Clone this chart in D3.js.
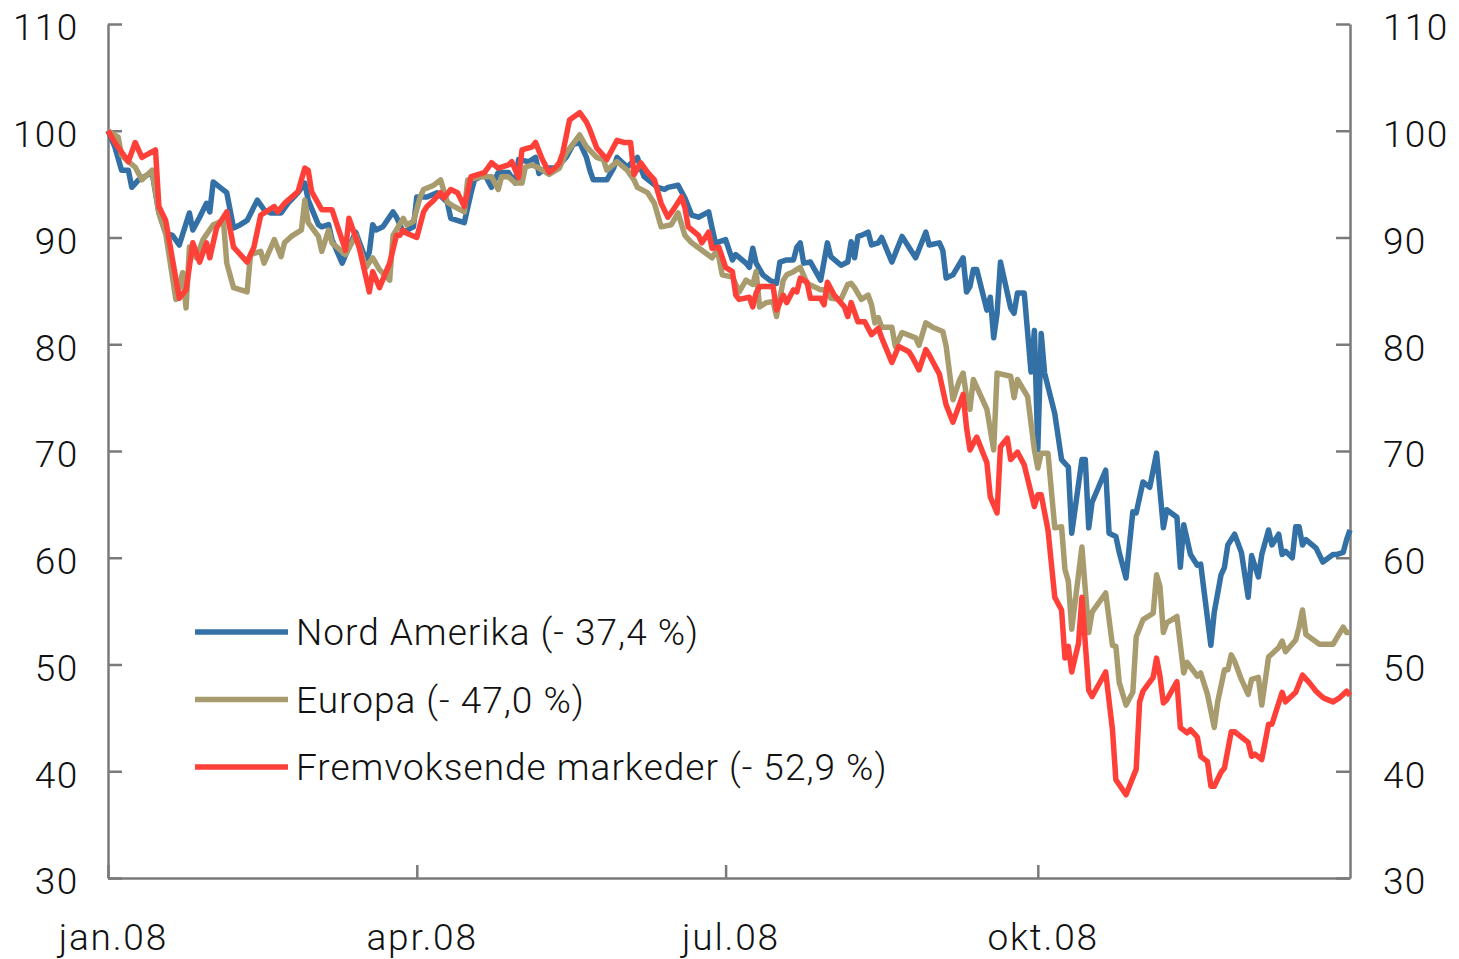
<!DOCTYPE html>
<html>
<head>
<meta charset="utf-8">
<script src="https://cdn.jsdelivr.net/npm/d3@7"></script>
<style>
  body { margin: 0; background: #fff; }
  svg text { font-family: Roboto, "Liberation Sans", Arial, sans-serif; font-weight: 300; fill: #111; }
</style>
</head>
<body>
<div id="chart"></div>
<script>
// index values, 1 jan 2008 = 100
const nordAmerika = [
  ["2008-01-01",100.0],["2008-01-03",98.5],["2008-01-05",96.3],["2008-01-07",96.3],["2008-01-08",94.7],
  ["2008-01-10",95.4],["2008-01-14",96.1],["2008-01-16",92.3],["2008-01-18",90.4],["2008-01-20",90.2],
  ["2008-01-22",89.3],["2008-01-25",92.3],["2008-01-26",90.7],["2008-01-28",91.9],["2008-01-30",93.2],
  ["2008-01-31",92.4],["2008-02-01",95.2],["2008-02-03",94.7],["2008-02-05",94.2],["2008-02-07",90.9],
  ["2008-02-09",91.2],["2008-02-11",91.6],["2008-02-14",93.5],["2008-02-16",92.6],["2008-02-18",92.3],
  ["2008-02-21",92.3],["2008-02-23",93.2],["2008-02-26",94.2],["2008-02-28",95.1],["2008-02-29",93.5],
  ["2008-03-03",91.2],["2008-03-04",91.0],["2008-03-06",91.2],["2008-03-07",89.8],["2008-03-10",87.6],
  ["2008-03-12",89.1],["2008-03-14",90.5],["2008-03-17",87.9],["2008-03-18",88.6],["2008-03-19",91.2],
  ["2008-03-20",90.7],["2008-03-22",91.0],["2008-03-25",92.4],["2008-03-26",91.9],["2008-03-28",90.5],
  ["2008-03-31",91.0],["2008-04-01",93.8],["2008-04-04",93.8],["2008-04-07",94.2],["2008-04-10",93.3],
  ["2008-04-11",91.8],["2008-04-15",91.4],["2008-04-17",94.2],["2008-04-18",95.4],["2008-04-21",95.9],
  ["2008-04-23",94.7],["2008-04-25",96.1],["2008-04-28",96.1],["2008-04-30",95.1],["2008-05-01",97.3],
  ["2008-05-04",97.1],["2008-05-06",97.5],["2008-05-07",96.0],["2008-05-09",96.5],["2008-05-12",96.5],
  ["2008-05-15",97.5],["2008-05-17",98.7],["2008-05-19",98.9],["2008-05-21",97.5],["2008-05-22",96.3],
  ["2008-05-23",95.4],["2008-05-27",95.4],["2008-05-29",96.5],["2008-05-30",97.5],["2008-06-02",96.6],
  ["2008-06-05",97.5],["2008-06-06",96.5],["2008-06-07",95.7],["2008-06-11",94.7],["2008-06-13",94.5],
  ["2008-06-14",94.7],["2008-06-17",94.9],["2008-06-19",93.7],["2008-06-21",92.1],["2008-06-23",91.9],
  ["2008-06-26",92.4],["2008-06-27",90.9],["2008-06-28",89.5],["2008-06-29",89.6],["2008-07-01",89.8],
  ["2008-07-03",87.9],["2008-07-04",88.4],["2008-07-07",87.6],["2008-07-08",87.2],["2008-07-09",89.0],
  ["2008-07-10",87.6],["2008-07-12",86.5],["2008-07-14",86.0],["2008-07-16",85.7],["2008-07-17",87.7],
  ["2008-07-19",87.9],["2008-07-21",87.9],["2008-07-22",89.1],["2008-07-23",89.5],["2008-07-24",87.6],
  ["2008-07-26",87.7],["2008-07-29",86.0],["2008-07-31",89.5],["2008-08-01",88.2],["2008-08-04",87.4],
  ["2008-08-06",87.7],["2008-08-07",89.6],["2008-08-08",88.1],["2008-08-09",90.1],["2008-08-10",90.2],
  ["2008-08-12",90.5],["2008-08-13",89.3],["2008-08-15",89.5],["2008-08-16",90.0],["2008-08-19",87.7],
  ["2008-08-22",90.1],["2008-08-26",88.1],["2008-08-29",90.5],["2008-08-30",89.3],["2008-09-02",89.5],
  ["2008-09-03",88.8],["2008-09-04",86.2],["2008-09-06",86.5],["2008-09-09",88.1],["2008-09-10",84.9],
  ["2008-09-11",85.4],["2008-09-12",87.0],["2008-09-13",87.0],["2008-09-16",83.2],["2008-09-17",84.4],
  ["2008-09-18",80.6],["2008-09-19",82.9],["2008-09-20",87.7],["2008-09-23",83.4],["2008-09-24",82.9],
  ["2008-09-25",84.8],["2008-09-27",84.8],["2008-09-29",77.4],["2008-09-30",81.3],["2008-10-01",70.1],
  ["2008-10-02",81.0],["2008-10-03",77.3],["2008-10-06",73.5],["2008-10-08",69.2],["2008-10-10",68.5],
  ["2008-10-11",62.3],["2008-10-14",69.2],["2008-10-15",69.2],["2008-10-16",62.8],["2008-10-17",65.2],
  ["2008-10-21",68.2],["2008-10-22",62.3],["2008-10-24",62.0],["2008-10-25",60.5],["2008-10-27",58.1],
  ["2008-10-29",64.3],["2008-10-30",64.2],["2008-11-01",67.1],["2008-11-03",66.6],["2008-11-05",69.8],
  ["2008-11-07",62.8],["2008-11-08",64.5],["2008-11-11",63.8],["2008-11-12",59.1],["2008-11-13",63.1],
  ["2008-11-15",60.3],["2008-11-17",59.3],["2008-11-18",59.4],["2008-11-21",51.8],["2008-11-22",54.9],
  ["2008-11-24",58.4],["2008-11-25",59.1],["2008-11-26",61.2],["2008-11-28",62.2],["2008-11-30",60.5],
  ["2008-12-02",56.3],["2008-12-03",60.2],["2008-12-05",58.2],["2008-12-06",60.3],["2008-12-08",62.6],
  ["2008-12-09",61.2],["2008-12-11",62.2],["2008-12-12",60.3],["2008-12-13",60.6],["2008-12-15",60.0],
  ["2008-12-16",62.9],["2008-12-17",62.9],["2008-12-18",61.2],["2008-12-19",61.7],["2008-12-22",60.9],
  ["2008-12-24",59.6],["2008-12-27",60.3],["2008-12-28",60.3],["2008-12-30",60.5],["2008-12-31",61.7],
  ["2009-01-01",62.6]
];

const europa = [
  ["2008-01-01",100.0],["2008-01-04",99.4],["2008-01-05",97.7],["2008-01-07",97.1],["2008-01-09",96.6],
  ["2008-01-11",95.4],["2008-01-14",96.3],["2008-01-16",92.3],["2008-01-18",90.4],["2008-01-21",84.2],
  ["2008-01-23",86.7],["2008-01-24",83.4],["2008-01-25",89.1],["2008-01-27",88.1],["2008-01-29",89.8],
  ["2008-02-01",91.2],["2008-02-04",91.6],["2008-02-05",87.6],["2008-02-07",85.3],["2008-02-11",84.9],
  ["2008-02-12",88.4],["2008-02-15",88.7],["2008-02-16",87.6],["2008-02-19",89.8],["2008-02-21",88.2],
  ["2008-02-22",89.5],["2008-02-24",90.1],["2008-02-27",90.7],["2008-02-28",93.5],["2008-02-29",91.4],
  ["2008-03-03",90.1],["2008-03-04",88.7],["2008-03-06",90.7],["2008-03-07",89.5],["2008-03-11",88.4],
  ["2008-03-14",90.2],["2008-03-17",87.2],["2008-03-19",88.1],["2008-03-21",87.0],["2008-03-24",86.0],
  ["2008-03-25",90.2],["2008-03-28",91.8],["2008-03-29",91.2],["2008-03-31",91.5],["2008-04-02",93.8],
  ["2008-04-03",94.5],["2008-04-06",94.9],["2008-04-08",95.4],["2008-04-10",93.3],["2008-04-12",92.9],
  ["2008-04-15",92.4],["2008-04-16",95.4],["2008-04-20",95.7],["2008-04-23",95.7],["2008-04-25",94.5],
  ["2008-04-26",95.7],["2008-04-28",95.7],["2008-04-30",95.1],["2008-05-02",95.1],["2008-05-03",96.6],
  ["2008-05-05",96.8],["2008-05-07",96.5],["2008-05-10",95.9],["2008-05-13",96.5],["2008-05-15",97.9],
  ["2008-05-19",99.6],["2008-05-21",98.5],["2008-05-24",97.5],["2008-05-26",97.3],["2008-05-27",96.3],
  ["2008-05-30",97.1],["2008-06-02",96.3],["2008-06-04",95.4],["2008-06-05",94.7],["2008-06-08",94.2],
  ["2008-06-10",93.2],["2008-06-12",91.0],["2008-06-15",91.2],["2008-06-17",92.3],["2008-06-19",90.2],
  ["2008-06-21",89.5],["2008-06-24",88.8],["2008-06-27",88.1],["2008-06-28",88.6],["2008-06-29",88.2],
  ["2008-06-30",86.5],["2008-07-03",86.3],["2008-07-05",84.9],["2008-07-07",86.0],["2008-07-09",85.6],
  ["2008-07-10",86.8],["2008-07-11",83.5],["2008-07-13",83.9],["2008-07-15",84.0],["2008-07-16",82.6],
  ["2008-07-18",86.0],["2008-07-19",86.5],["2008-07-21",86.8],["2008-07-23",87.2],["2008-07-25",85.7],
  ["2008-07-29",85.1],["2008-07-31",85.1],["2008-08-01",84.3],["2008-08-04",84.2],["2008-08-06",85.6],
  ["2008-08-07",85.7],["2008-08-08",85.3],["2008-08-10",84.2],["2008-08-12",84.6],["2008-08-13",83.7],
  ["2008-08-14",82.0],["2008-08-15",82.5],["2008-08-16",81.6],["2008-08-19",81.6],["2008-08-20",79.8],
  ["2008-08-22",81.1],["2008-08-26",80.6],["2008-08-27",79.9],["2008-08-29",82.0],["2008-08-31",81.6],
  ["2008-09-03",81.2],["2008-09-04",79.8],["2008-09-05",77.3],["2008-09-06",74.8],["2008-09-08",76.7],
  ["2008-09-09",77.3],["2008-09-10",75.1],["2008-09-11",73.9],["2008-09-12",76.7],["2008-09-16",73.9],
  ["2008-09-18",70.1],["2008-09-19",77.3],["2008-09-23",77.0],["2008-09-24",75.0],["2008-09-25",76.7],
  ["2008-09-28",75.1],["2008-09-30",70.1],["2008-10-01",68.4],["2008-10-02",69.8],["2008-10-04",69.8],
  ["2008-10-06",62.8],["2008-10-08",62.9],["2008-10-09",58.9],["2008-10-10",57.8],["2008-10-11",53.3],
  ["2008-10-14",61.0],["2008-10-16",53.0],["2008-10-17",54.9],["2008-10-21",56.7],["2008-10-23",51.8],
  ["2008-10-24",51.7],["2008-10-25",48.3],["2008-10-27",46.2],["2008-10-29",47.4],["2008-10-30",52.6],
  ["2008-11-01",54.2],["2008-11-04",54.8],["2008-11-05",58.4],["2008-11-06",57.3],["2008-11-07",53.0],
  ["2008-11-08",53.9],["2008-11-11",54.5],["2008-11-13",49.2],["2008-11-14",50.2],["2008-11-17",48.9],
  ["2008-11-18",49.2],["2008-11-20",47.2],["2008-11-22",44.1],["2008-11-23",46.5],["2008-11-25",49.5],
  ["2008-11-26",49.5],["2008-11-27",50.9],["2008-11-28",50.3],["2008-11-30",48.6],["2008-12-02",47.2],
  ["2008-12-03",48.6],["2008-12-05",48.8],["2008-12-06",46.2],["2008-12-08",50.7],["2008-12-11",51.6],
  ["2008-12-12",52.2],["2008-12-13",51.2],["2008-12-16",52.3],["2008-12-17",53.5],["2008-12-18",55.1],
  ["2008-12-19",52.8],["2008-12-23",51.9],["2008-12-27",51.9],["2008-12-30",53.5],["2008-12-31",53.0],
  ["2009-01-01",53.0]
];

const fremvoksende = [
  ["2008-01-01",100.0],["2008-01-03",98.9],["2008-01-07",97.1],["2008-01-09",98.9],["2008-01-11",97.5],
  ["2008-01-15",98.2],["2008-01-16",92.9],["2008-01-18",91.6],["2008-01-22",84.3],["2008-01-24",85.1],
  ["2008-01-26",89.5],["2008-01-28",87.7],["2008-01-30",89.5],["2008-01-31",88.1],["2008-02-02",90.9],
  ["2008-02-05",92.4],["2008-02-07",89.1],["2008-02-11",87.7],["2008-02-13",89.1],["2008-02-15",92.1],
  ["2008-02-19",92.9],["2008-02-20",92.4],["2008-02-22",93.2],["2008-02-26",94.3],["2008-02-28",96.5],
  ["2008-02-29",96.3],["2008-03-01",94.3],["2008-03-04",92.6],["2008-03-07",92.6],["2008-03-09",90.7],
  ["2008-03-11",88.8],["2008-03-12",91.8],["2008-03-15",89.1],["2008-03-18",84.9],["2008-03-19",86.8],
  ["2008-03-21",85.3],["2008-03-24",87.6],["2008-03-26",90.2],["2008-03-27",90.2],["2008-03-28",90.7],
  ["2008-03-29",90.4],["2008-04-01",90.0],["2008-04-03",92.4],["2008-04-04",92.9],["2008-04-06",93.5],
  ["2008-04-08",94.2],["2008-04-09",93.7],["2008-04-11",94.5],["2008-04-13",94.2],["2008-04-15",92.9],
  ["2008-04-17",95.7],["2008-04-19",95.9],["2008-04-21",96.1],["2008-04-23",97.0],["2008-04-25",96.5],
  ["2008-04-28",96.8],["2008-04-29",97.1],["2008-05-01",95.6],["2008-05-02",98.2],["2008-05-05",98.5],
  ["2008-05-06",98.9],["2008-05-08",97.3],["2008-05-10",96.1],["2008-05-12",96.6],["2008-05-13",97.0],
  ["2008-05-14",97.9],["2008-05-16",101.0],["2008-05-19",101.7],["2008-05-21",100.8],["2008-05-22",100.1],
  ["2008-05-24",98.4],["2008-05-27",97.3],["2008-05-30",99.1],["2008-06-01",98.9],["2008-06-03",98.9],
  ["2008-06-04",95.9],["2008-06-06",97.0],["2008-06-08",96.1],["2008-06-10",95.4],["2008-06-12",93.2],
  ["2008-06-14",91.9],["2008-06-16",92.8],["2008-06-18",93.8],["2008-06-19",92.8],["2008-06-20",91.0],
  ["2008-06-23",90.2],["2008-06-24",89.5],["2008-06-26",90.5],["2008-06-27",89.0],["2008-06-29",89.1],
  ["2008-07-01",87.2],["2008-07-03",86.8],["2008-07-04",84.6],["2008-07-05",84.2],["2008-07-08",84.4],
  ["2008-07-09",83.5],["2008-07-10",84.8],["2008-07-11",85.4],["2008-07-15",85.4],["2008-07-16",83.2],
  ["2008-07-18",84.6],["2008-07-19",83.9],["2008-07-21",85.1],["2008-07-22",84.9],["2008-07-23",86.2],
  ["2008-07-25",85.8],["2008-07-26",84.3],["2008-07-29",84.3],["2008-07-30",83.7],["2008-07-31",85.8],
  ["2008-08-02",84.6],["2008-08-05",83.5],["2008-08-06",82.6],["2008-08-07",83.9],["2008-08-09",82.1],
  ["2008-08-11",82.1],["2008-08-13",80.9],["2008-08-15",81.5],["2008-08-16",80.6],["2008-08-19",78.3],
  ["2008-08-21",79.8],["2008-08-24",79.3],["2008-08-25",78.8],["2008-08-27",77.6],["2008-08-29",79.5],
  ["2008-08-30",79.0],["2008-09-02",77.2],["2008-09-04",74.3],["2008-09-06",72.7],["2008-09-09",75.3],
  ["2008-09-10",72.2],["2008-09-11",70.1],["2008-09-13",71.3],["2008-09-16",68.9],["2008-09-17",65.7],
  ["2008-09-19",64.2],["2008-09-20",70.4],["2008-09-22",71.2],["2008-09-23",69.2],["2008-09-25",69.9],
  ["2008-09-27",68.7],["2008-09-30",64.8],["2008-10-01",65.9],["2008-10-02",65.9],["2008-10-04",62.6],
  ["2008-10-06",56.3],["2008-10-08",55.1],["2008-10-09",50.6],["2008-10-10",51.7],["2008-10-11",49.3],
  ["2008-10-13",52.0],["2008-10-14",56.3],["2008-10-16",47.6],["2008-10-17",47.0],["2008-10-21",49.3],
  ["2008-10-23",43.9],["2008-10-24",39.2],["2008-10-27",37.8],["2008-10-30",40.2],["2008-10-31",46.5],
  ["2008-11-01",47.5],["2008-11-04",48.8],["2008-11-05",50.6],["2008-11-06",48.9],["2008-11-07",46.4],
  ["2008-11-08",46.7],["2008-11-11",48.4],["2008-11-12",44.1],["2008-11-14",43.6],["2008-11-15",43.9],
  ["2008-11-17",43.2],["2008-11-18",41.4],["2008-11-20",40.9],["2008-11-21",38.6],["2008-11-22",38.6],
  ["2008-11-24",39.9],["2008-11-25",40.3],["2008-11-27",43.7],["2008-11-28",43.7],["2008-12-02",42.7],
  ["2008-12-03",41.4],["2008-12-04",41.6],["2008-12-06",41.1],["2008-12-08",44.4],["2008-12-09",44.4],
  ["2008-12-12",47.4],["2008-12-13",46.5],["2008-12-16",47.4],["2008-12-18",49.0],["2008-12-20",48.3],
  ["2008-12-22",47.5],["2008-12-24",46.9],["2008-12-27",46.5],["2008-12-29",46.9],["2008-12-31",47.5],
  ["2009-01-01",47.1]
];

const seriesNames = ["Nord Amerika (- 37,4 %)", "Europa (- 47,0 %)", "Fremvoksende markeder (- 52,9 %)"];
const seriesColors = ["#3370a6", "#a89c6e", "#ff4038"];
const yTicks = [30, 40, 50, 60, 70, 80, 90, 100, 110];
const xTickDates = ["2008-01-01", "2008-04-01", "2008-07-01", "2008-10-01"];
const xTickLabels = ["jan.08", "apr.08", "jul.08", "okt.08"];

const width = 1459, height = 959;
const margin = { top: 24, right: 109, bottom: 81, left: 108 };
const parse = d3.timeParse("%Y-%m-%d");

const svg = d3.select("#chart").append("svg")
  .attr("width", width)
  .attr("height", height);

const x = d3.scaleTime()
  .domain([parse("2008-01-01"), parse("2009-01-01")])
  .range([margin.left, width - margin.right]);

const y = d3.scaleLinear()
  .domain([30, 110])
  .range([height - margin.bottom, margin.top]);

const axisColor = "#7a7a7a";

function styleAxis(g) {
  g.selectAll("path, line").attr("stroke", axisColor).attr("stroke-width", 2.5);
  g.selectAll("text").attr("font-size", 37).attr("fill", "#111").attr("letter-spacing", "1.3px");
}

svg.append("g")
  .attr("transform", `translate(${margin.left},0)`)
  .call(d3.axisLeft(y).tickValues(yTicks).tickSize(-14).tickSizeOuter(0).tickPadding(29.5))
  .call(styleAxis)
  .call(g => g.selectAll("text").attr("dy", "0.43em"));

svg.append("g")
  .attr("transform", `translate(${width - margin.right},0)`)
  .call(d3.axisRight(y).tickValues(yTicks).tickSize(-14).tickSizeOuter(0).tickPadding(33))
  .call(styleAxis)
  .call(g => g.selectAll("text").attr("dy", "0.43em"));

svg.append("g")
  .attr("transform", `translate(0,${height - margin.bottom})`)
  .call(d3.axisBottom(x)
    .tickValues(xTickDates.map(parse))
    .tickFormat((d, i) => xTickLabels[i])
    .tickSize(-13).tickSizeOuter(0).tickPadding(46))
  .call(styleAxis)
  .call(g => g.selectAll("text").attr("letter-spacing", "1.8px").attr("dx", "0.13em"));

const line = d3.line()
  .x(d => x(parse(d[0])))
  .y(d => y(d[1]));

const allSeries = [nordAmerika, europa, fremvoksende];

svg.append("g")
  .selectAll("path")
  .data(allSeries)
  .join("path")
    .attr("fill", "none")
    .attr("stroke", (d, i) => seriesColors[i])
    .attr("stroke-width", 5.5)
    .attr("stroke-linejoin", "round")
    .attr("d", line);

const legend = svg.append("g")
  .selectAll("g")
  .data(seriesNames)
  .join("g")
    .attr("transform", (d, i) => `translate(195, ${632 + i * 67.5})`);

legend.append("line")
  .attr("x1", 0).attr("x2", 93)
  .attr("stroke", (d, i) => seriesColors[i])
  .attr("stroke-width", 5.5);

legend.append("text")
  .attr("x", 101)
  .attr("dy", "0.36em")
  .attr("font-size", 37)
  .attr("letter-spacing", "1px")
  .text(d => d);
</script>
</body>
</html>
